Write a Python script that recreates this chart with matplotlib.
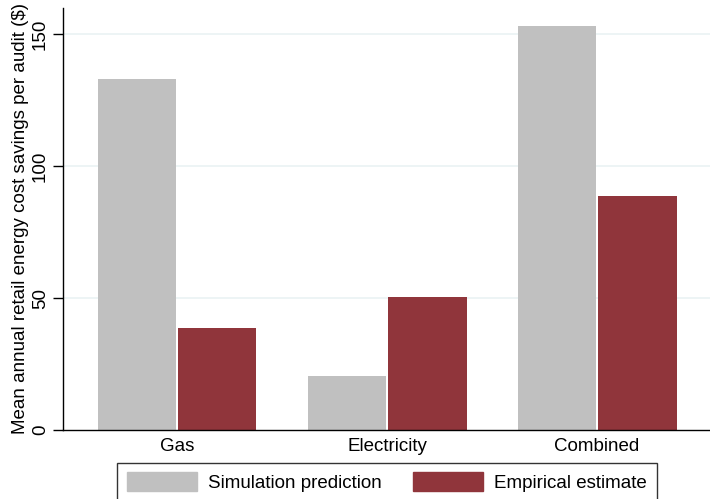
import numpy as np
import matplotlib.pyplot as plt
from matplotlib.patches import Patch

plt.rcParams['font.family'] = ['Liberation Sans', 'DejaVu Sans']

categories = ["Gas", "Electricity", "Combined"]
simulation = [133.0, 20.5, 153.3]
empirical = [38.6, 50.4, 88.6]
yticks = [0, 50, 100, 150]

gray = "#c0c0c0"
cranberry = "#90353b"
grid_col = "#eaf2f3"
fs = 13.5

fig = plt.figure(figsize=(7.10, 4.99), dpi=100)
ax = fig.add_axes([0.0887, 0.1383, 0.9113, 0.8457])

x = np.arange(len(categories))
w = 0.376
off = 0.1905
ax.bar(x - off, simulation, width=w, color=gray, zorder=2)
ax.bar(x + off, empirical, width=w, color=cranberry, zorder=2)

ax.set_xlim(-0.543, 2.538)
ax.set_ylim(0, 160)
ax.set_yticks(yticks)
ax.set_yticklabels([str(t) for t in yticks], rotation=90, va="center", fontsize=fs)
ax.set_xticks(x)
ax.set_xticklabels(categories, fontsize=fs)
ax.tick_params(axis="x", length=0, pad=6)
ax.tick_params(axis="y", length=7, width=1, pad=3)
for t in yticks[1:]:
    ax.axhline(t, color=grid_col, lw=1.2, zorder=1)

ax.spines["top"].set_visible(False)
ax.spines["right"].set_visible(False)
ax.spines["left"].set_linewidth(1)
ax.spines["bottom"].set_linewidth(1)

ax.set_ylabel("Mean annual retail energy cost savings per audit ($)", fontsize=fs, labelpad=2)

handles = [Patch(facecolor=gray, edgecolor=gray, label="Simulation prediction"),
           Patch(facecolor=cranberry, edgecolor=cranberry, label="Empirical estimate")]
leg = fig.legend(handles=handles, loc="upper center", bbox_to_anchor=(0.545, 0.0721),
                 ncol=2, fontsize=fs, frameon=True, fancybox=False, handlelength=3.75,
                 handleheight=1.15, handletextpad=0.6, columnspacing=1.65, borderpad=0.5,
                 borderaxespad=0)
leg.get_frame().set_edgecolor("black")
leg.get_frame().set_linewidth(1)

fig.savefig("out.png", dpi=100)
